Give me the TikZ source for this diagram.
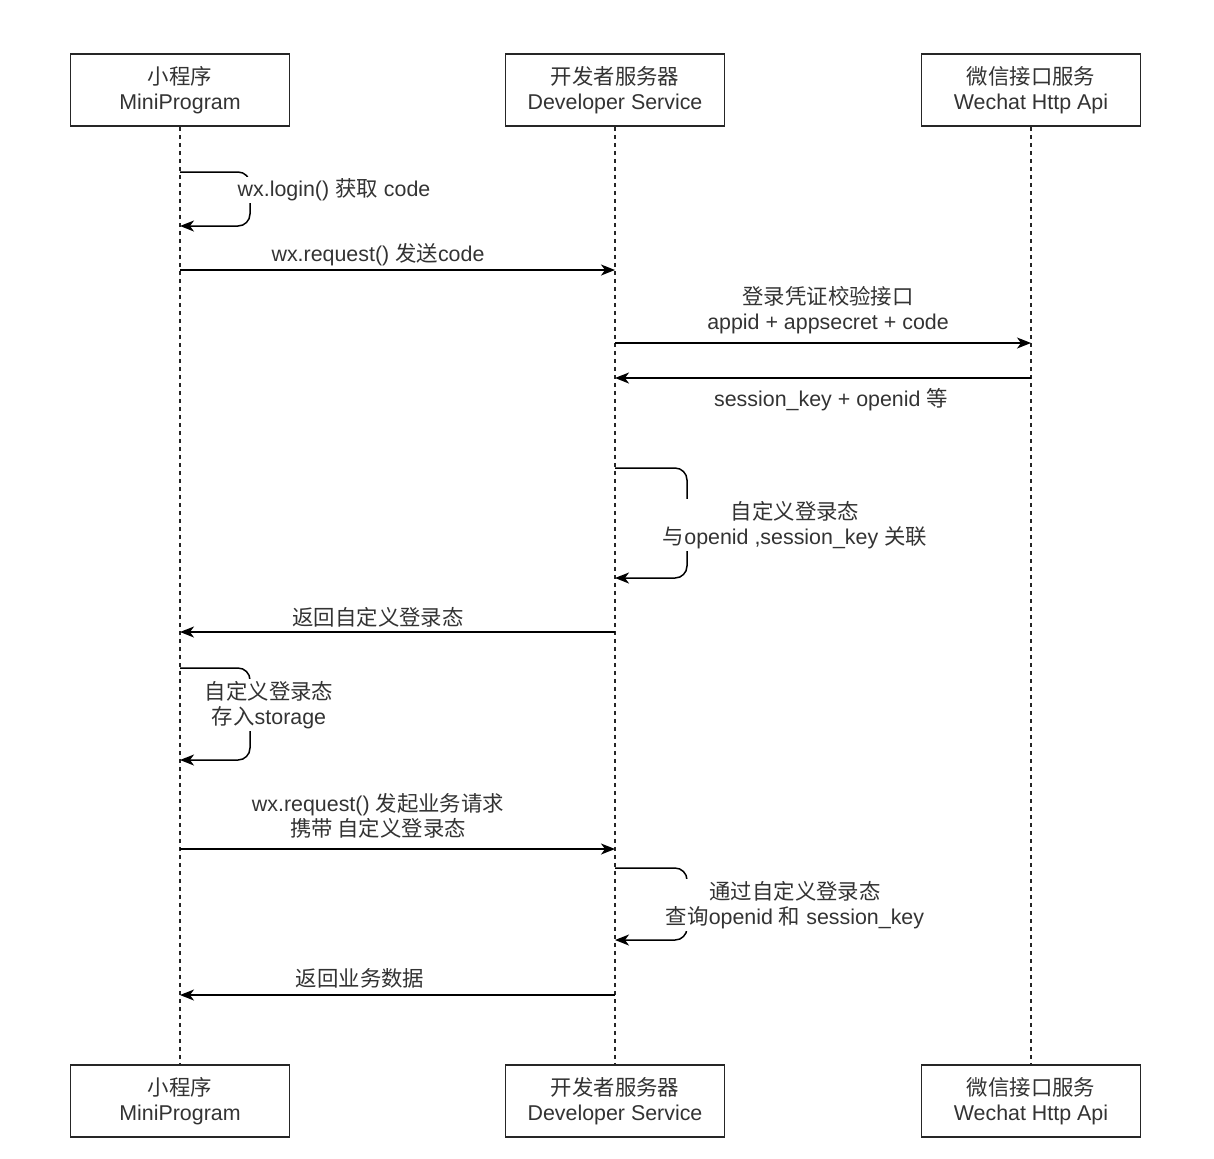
\documentclass[tikz,border=0pt]{standalone}
\usepackage{fontspec}
\setmainfont{Liberation Sans}
\newfontfamily\cjk{Noto Sans CJK SC}
\usetikzlibrary{arrows.meta, positioning}

\tikzset{
  actor/.style={draw=black!85, line width=0.8pt, fill=white, minimum width=109.5pt,
    minimum height=36pt, inner sep=0pt, align=center, text=black!80,
    font=\fontsize{10.7}{12.5}\selectfont},
  lifeline/.style={black!85, line width=0.6pt, dash pattern=on 2pt off 2pt},
  msg/.style={black, line width=0.75pt, -{Stealth[length=7pt, width=5.5pt, inset=2pt]}},
  loopmsg/.style={msg, rounded corners=6pt},
  lbl/.style={fill=white, inner sep=1pt, align=center, text=black!80,
    font=\fontsize{10.7}{12.5}\selectfont},
}

\begin{document}
\begin{tikzpicture}[x=0.5pt, y=-0.5pt]
  \useasboundingbox (0,0) rectangle (1214,1158);

  % Acteurs (haut et bas)
  \node[actor] (mpT) at (180,90) {{\cjk 小程序}\\MiniProgram};
  \node[actor] (dsT) at (615,90) {{\cjk 开发者服务器}\\Developer Service};
  \node[actor] (wxT) at (1031,90) {{\cjk 微信接口服务}\\Wechat Http Api};
  \node[actor] (mpB) at (180,1101) {{\cjk 小程序}\\MiniProgram};
  \node[actor] (dsB) at (615,1101) {{\cjk 开发者服务器}\\Developer Service};
  \node[actor] (wxB) at (1031,1101) {{\cjk 微信接口服务}\\Wechat Http Api};

  % Lignes de vie
  \draw[lifeline] (mpT) -- (mpB);
  \draw[lifeline] (dsT) -- (dsB);
  \draw[lifeline] (wxT) -- (wxB);

  % wx.login()
  \coordinate (loginA) at (mpT |- 0,172);
  \coordinate (loginB) at (mpT |- 0,226);
  \draw[loopmsg] (loginA) -- ++(70,0) |- (loginB);
  \node[lbl] (loginL) at (334,190) {wx.login() {\cjk 获取} code};

  % wx.request() envoi du code
  \coordinate (codeA) at (mpT |- 0,270);
  \coordinate (codeB) at (dsT |- 0,270);
  \draw[msg] (codeA) -- (codeB);
  \node[lbl, fill=none] (codeL) at (378,255) {wx.request() {\cjk 发送}code};

  % Vérification auprès de l'API WeChat
  \coordinate (authA) at (dsT |- 0,343);
  \coordinate (authB) at (wxT |- 0,343);
  \draw[msg] (authA) -- (authB);
  \node[lbl, fill=none] (authL) at (828,310) {{\cjk 登录凭证校验接口}\\appid + appsecret + code};

  \coordinate (sessA) at (wxT |- 0,378);
  \coordinate (sessB) at (dsT |- 0,378);
  \draw[msg] (sessA) -- (sessB);
  \node[lbl, fill=none] (sessL) at (831,400) {session\_key + openid {\cjk 等}};

  % État de connexion personnalisé
  \coordinate (stateA) at (dsT |- 0,468);
  \coordinate (stateB) at (dsT |- 0,578);
  \draw[loopmsg] (stateA) -- ++(72,0) |- (stateB);
  \node[lbl] (stateL) at (795,525) {{\cjk 自定义登录态}\\{\cjk 与}openid ,session\_key {\cjk 关联}};

  \coordinate (retA) at (dsT |- 0,632);
  \coordinate (retB) at (mpT |- 0,632);
  \draw[msg] (retA) -- (retB);
  \node[lbl, fill=none] (retL) at (378,617) {\cjk 返回自定义登录态};

  % Stockage côté mini-programme
  \coordinate (storeA) at (mpT |- 0,668);
  \coordinate (storeB) at (mpT |- 0,760);
  \draw[loopmsg] (storeA) -- ++(70,0) |- (storeB);
  \node[lbl] (storeL) at (269,705) {{\cjk 自定义登录态}\\{\cjk 存入}storage};

  % Requête métier
  \coordinate (bizA) at (mpT |- 0,849);
  \coordinate (bizB) at (dsT |- 0,849);
  \draw[msg] (bizA) -- (bizB);
  \node[lbl, fill=none] (bizL) at (378,816) {wx.request() {\cjk 发起业务请求}\\{\cjk 携带 自定义登录态}};

  \coordinate (queryA) at (dsT |- 0,868);
  \coordinate (queryB) at (dsT |- 0,940);
  \draw[loopmsg] (queryA) -- ++(72,0) |- (queryB);
  \node[lbl] (queryL) at (795,905) {{\cjk 通过自定义登录态}\\{\cjk 查询}openid {\cjk 和} session\_key};

  \coordinate (dataA) at (dsT |- 0,995);
  \coordinate (dataB) at (mpT |- 0,995);
  \draw[msg] (dataA) -- (dataB);
  \node[lbl, fill=none] (dataL) at (360,978) {\cjk 返回业务数据};
\end{tikzpicture}
\end{document}
